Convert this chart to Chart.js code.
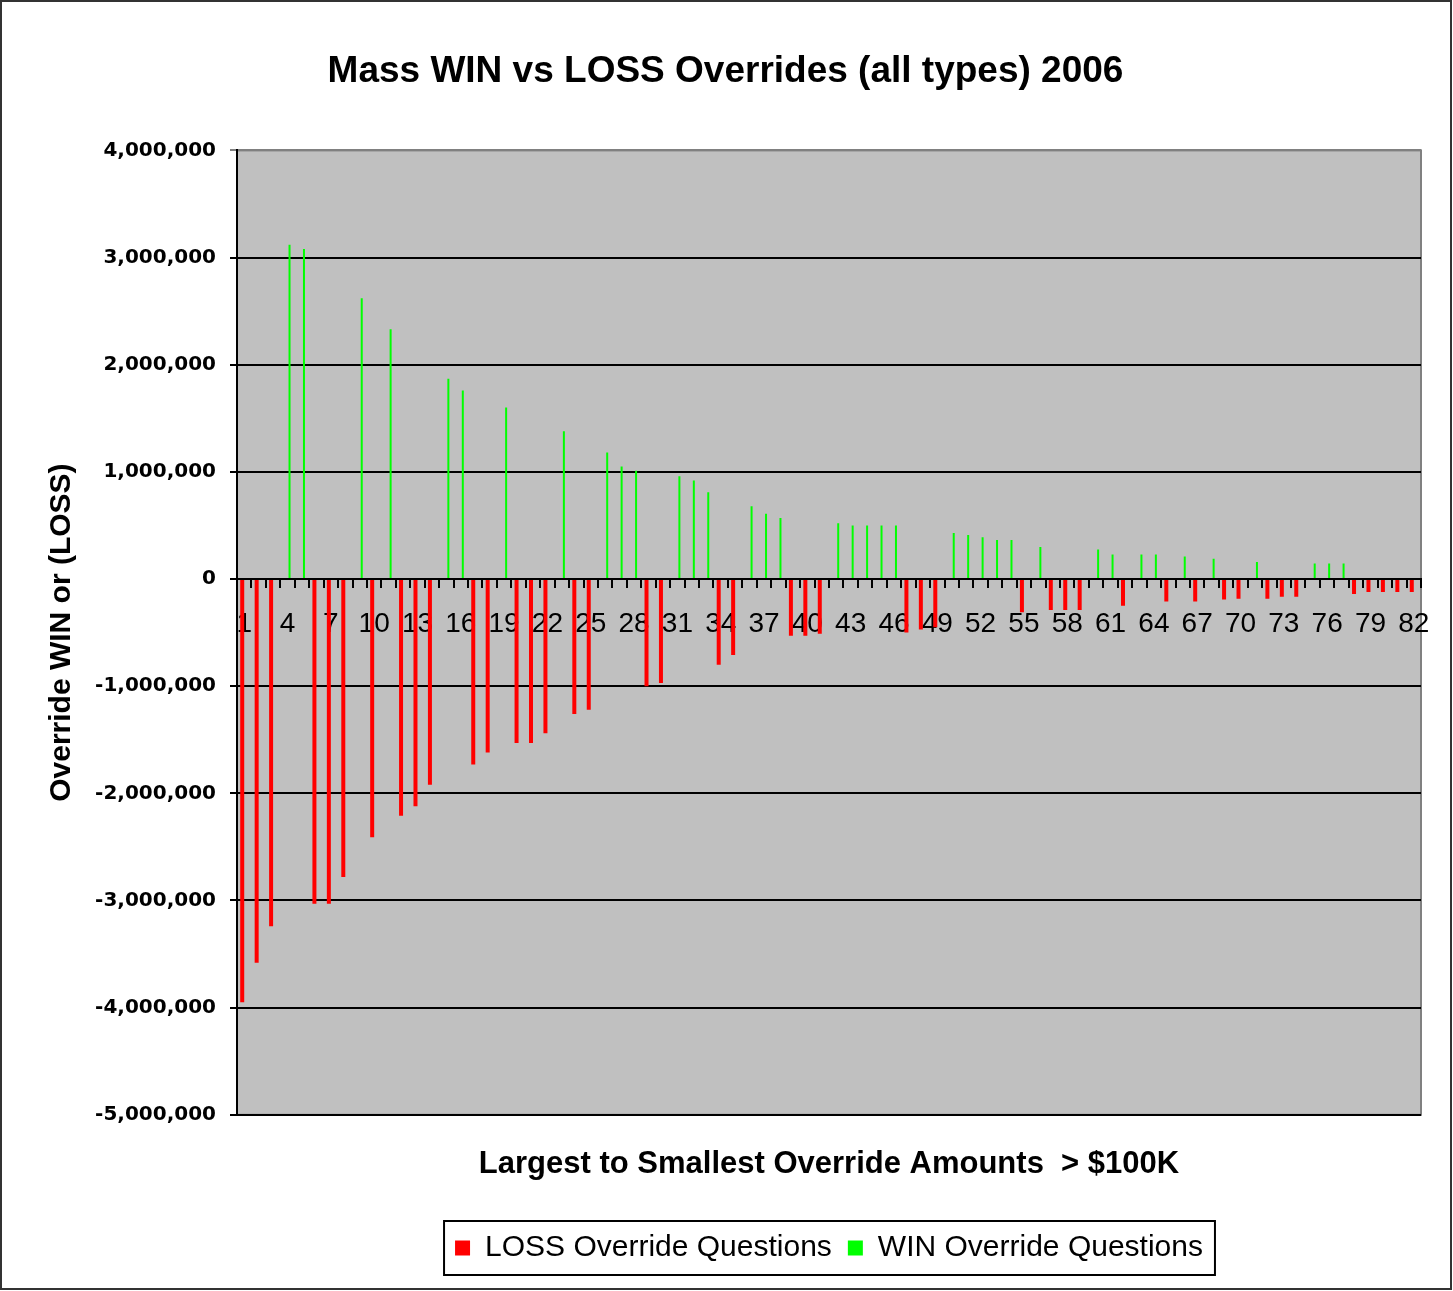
<!DOCTYPE html>
<html>
<head>
<meta charset="utf-8">
<script src="https://cdn.jsdelivr.net/npm/chart.js@4.4.1/dist/chart.umd.min.js"></script>
<style>
html,body{margin:0;padding:0;background:#fff;overflow:hidden}
#wrap{width:1453px;height:1291px;position:relative}
</style>
</head>
<body>
<div id="wrap"><canvas id="c"></canvas></div>
<script>
const chartTitle = 'Mass WIN vs LOSS Overrides (all types) 2006';
const xAxisTitle = 'Largest to Smallest Override Amounts  > $100K';
const yAxisTitle = 'Override WIN or (LOSS)';
const seriesNames = ['LOSS Override Questions', 'WIN Override Questions'];

const categories = ['1','2','3','4','5','6','7','8','9','10',
  '11','12','13','14','15','16','17','18','19','20',
  '21','22','23','24','25','26','27','28','29','30',
  '31','32','33','34','35','36','37','38','39','40',
  '41','42','43','44','45','46','47','48','49','50',
  '51','52','53','54','55','56','57','58','59','60',
  '61','62','63','64','65','66','67','68','69','70',
  '71','72','73','74','75','76','77','78','79','80',
  '81','82'];

const lossValues = [-3950000,-3580000,-3240000,null,null,-3030000,-3030000,-2780000,null,-2410000,
  null,-2210000,-2120000,-1920000,null,null,-1730000,-1620000,null,-1530000,
  -1530000,-1440000,null,-1260000,-1220000,null,null,null,-1000000,-970000,
  null,null,null,-800000,-710000,null,null,null,-530000,-530000,
  -510000,null,null,null,null,null,-500000,-470000,-450000,null,
  null,null,null,null,-310000,null,-290000,-290000,-290000,null,
  null,-250000,null,null,-210000,null,-210000,null,-190000,-185000,
  null,-185000,-165000,-165000,null,null,null,-140000,-120000,-120000,
  -120000,-120000];

const winValues = [null,null,null,3120000,3080000,null,null,null,2620000,null,
  2330000,null,null,null,1870000,1760000,null,null,1600000,null,
  null,null,1380000,null,null,1180000,1050000,1010000,null,null,
  960000,920000,810000,null,null,680000,610000,570000,null,null,
  null,520000,500000,500000,500000,500000,null,null,null,430000,
  410000,390000,365000,365000,null,300000,null,null,null,275000,
  230000,null,230000,230000,null,210000,null,190000,null,null,
  160000,null,null,null,146000,146000,146000,null,null,null,
  null,null];

const yMin = -5000000, yMax = 4000000, yStep = 1000000;
const xLabelEvery = 3;

const decor = {
  id: 'decor',
  beforeDraw(chart) {
    const {ctx, chartArea: a} = chart;
    ctx.save();
    ctx.fillStyle = '#ffffff';
    ctx.fillRect(0, 0, chart.width, chart.height);
    ctx.fillStyle = '#C0C0C0';
    ctx.fillRect(a.left, a.top, a.right - a.left, a.bottom - a.top);
    ctx.strokeStyle = '#808080';
    ctx.lineWidth = 2;
    ctx.strokeRect(a.left, a.top, a.right - a.left, a.bottom - a.top);
    ctx.restore();
  },
  afterDraw(chart) {
    const {ctx} = chart;
    const lg = chart.legend;
    if (lg && lg.legendHitBoxes && lg.legendHitBoxes.length) {
      const hb = lg.legendHitBoxes;
      const l = Math.min(...hb.map(h => h.left)) - 11;
      const r = Math.max(...hb.map(h => h.left + h.width)) + 12;
      const t = Math.min(...hb.map(h => h.top)) - 12;
      const b = Math.max(...hb.map(h => h.top + h.height)) + 12;
      ctx.save();
      ctx.strokeStyle = '#000';
      ctx.lineWidth = 2;
      ctx.strokeRect(l, t, r - l, b - t);
      ctx.restore();
    }
    ctx.save();
    ctx.strokeStyle = '#333';
    ctx.lineWidth = 2;
    ctx.strokeRect(1, 1, chart.width - 3, chart.height - 3);
    ctx.restore();
  }
};

Chart.defaults.font.family = "'Liberation Sans', Arial, sans-serif";
Chart.defaults.color = '#000';

new Chart(document.getElementById('c'), {
  type: 'bar',
  data: {
    labels: categories,
    datasets: [
      { label: seriesNames[0], data: lossValues, backgroundColor: '#FF0000', borderWidth: 0, barPercentage: 1.0, categoryPercentage: 0.554 },
      { label: seriesNames[1], data: winValues, backgroundColor: '#00FF00', borderWidth: 0, barPercentage: 0.5, categoryPercentage: 0.554 }
    ]
  },
  options: {
    responsive: true,
    maintainAspectRatio: false,
    animation: false,
    devicePixelRatio: 1,
    layout: { padding: { left: 30, right: 32, top: 0, bottom: 18 } },
    plugins: {
      tooltip: { enabled: false },
      title: {
        display: true, text: chartTitle, color: '#000',
        font: { size: 37, weight: 'bold' },
        padding: { top: 50, bottom: 56 }
      },
      subtitle: {
        display: true, text: xAxisTitle, position: 'bottom', weight: 500, fullSize: false, color: '#000',
        font: { size: 31, weight: 'bold' },
        padding: { top: 31, bottom: 34 }
      },
      legend: {
        position: 'bottom', fullSize: false,
        labels: { boxWidth: 15, boxHeight: 15, padding: 16, color: '#000', font: { size: 30 } }
      }
    },
    scales: {
      x: {
        type: 'category',
        position: { y: 0 },
        offset: true,
        grid: { display: true, drawOnChartArea: false, drawTicks: true, tickLength: 8, color: '#000', lineWidth: 2, offset: true },
        border: { display: true, color: '#000', width: 2 },
        ticks: {
          autoSkip: false, maxRotation: 0, minRotation: 0, padding: 20,
          font: { size: 28 }, color: '#000',
          callback: function(v, i) { return i % xLabelEvery === 0 ? categories[i] : ''; }
        }
      },
      y: {
        min: yMin, max: yMax,
        afterFit: function(scale) { scale.width = 207; },
        grid: {
          color: function(c) { return c.tick && c.tick.value === yMax ? '#808080' : '#000'; },
          lineWidth: 2, drawTicks: true, tickLength: 7
        },
        border: { display: true, color: '#000', width: 2 },
        ticks: {
          stepSize: yStep, padding: 14, color: '#000',
          font: { family: "'DejaVu Sans', Verdana, sans-serif", size: 20, weight: 'bold' },
          callback: function(v) { return Number(v).toLocaleString('en-US'); }
        },
        title: {
          display: true, text: yAxisTitle, color: '#000',
          font: { size: 30, weight: 'bold' },
          padding: { top: 14, bottom: 0 }
        }
      }
    }
  },
  plugins: [decor]
});
</script>
</body>
</html>
